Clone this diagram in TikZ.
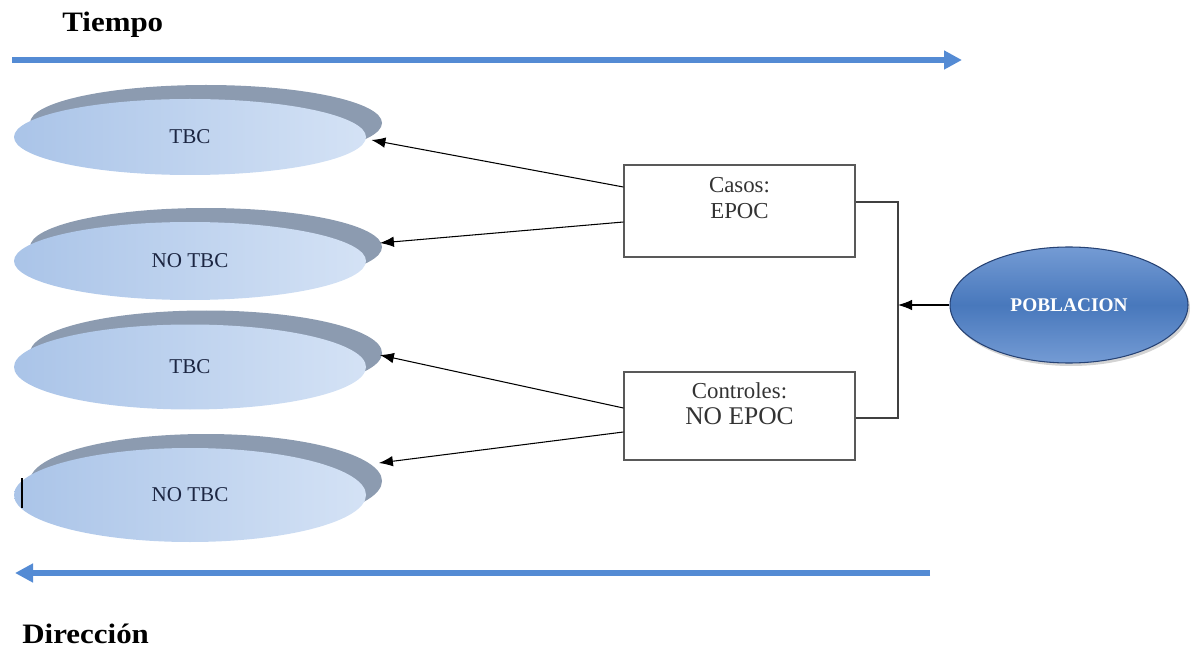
\documentclass[tikz,border=0pt]{standalone}
\usepackage{fontspec}
\setmainfont{Liberation Serif}
\newfontfamily\anchabold[FakeStretch=1.1]{Liberation Serif}
\usetikzlibrary{shapes.geometric,shadows,arrows.meta}

\definecolor{azul}{RGB}{84,139,212}
\definecolor{celeste}{RGB}{212,226,245}
\definecolor{celesteosc}{RGB}{170,196,232}
\definecolor{sombra}{RGB}{140,155,176}
\definecolor{pobazul}{RGB}{72,120,188}
\definecolor{pobclaro}{RGB}{116,155,212}
\definecolor{pobborde}{RGB}{38,66,116}
\definecolor{tinta}{RGB}{28,38,66}

\tikzset{
  tbc/.style={ellipse, minimum width=7.04cm, inner sep=0pt, draw=none,
    left color=celesteosc, right color=celeste,
    general shadow={fill=sombra, shadow xshift=0.32cm, shadow yshift=0.28cm},
    text=tinta, font=\fontsize{12}{14}\selectfont},
  caja/.style={rectangle, draw=black!65, line width=0.7pt, minimum width=4.62cm},
  cajatxt/.style={anchor=north, align=center, inner sep=0pt, text=black!80,
    font=\fontsize{13}{14.5}\selectfont},
  flecha/.style={-{Latex[length=8pt,width=6pt]}, line width=0.6pt},
  linea/.style={draw=black!75, line width=0.8pt},
  eje/.style={azul, line width=3.4pt, -{Triangle[length=0.36cm,width=0.36cm]}},
  titulo/.style={font=\anchabold\fontsize{16}{18}\selectfont\bfseries, anchor=base west, inner sep=0pt}
}

\begin{document}
\begin{tikzpicture}

\useasboundingbox (0,0) rectangle (23.92,12.98);

% time axes
\node[titulo] (tiempo) at (1.24,12.34) {Tiempo};
\coordinate (t0) at (0.24,11.78);
\coordinate (t1) at (19.24,11.78);
\draw[eje] (t0) -- (t1);

\coordinate (d0) at (18.6,1.52);
\coordinate (d1) at (0.3,1.52);
\draw[eje] (d0) -- (d1);
\node[titulo] (direccion) at (0.44,0.12) {Dirección};

% outcome ellipses
\foreach \i/\y/\h/\txt in {1/10.24/1.52/TBC, 2/7.76/1.56/NO TBC, 3/5.64/1.70/TBC, 4/3.08/1.88/NO TBC}
    \node[tbc, minimum height=\h cm] (e\i) at (3.8,\y) {\txt};

\draw[line width=1.2pt] (0.44,2.82) -- (0.44,3.42);

% groups
\node[caja, minimum height=1.84cm] (casos)     at (14.79,8.76) {};
\node[caja, minimum height=1.76cm] (controles) at (14.79,4.66) {};
\node[cajatxt] (casostxt) at ([yshift=-0.26cm]casos.north) {Casos:\\EPOC};
\node[cajatxt] (controlestxt) at ([yshift=-0.22cm]controles.north)
    {Controles:\\{\fontsize{14.5}{15}\selectfont NO EPOC}};

% population
\node[ellipse, minimum width=4.76cm, minimum height=2.32cm, inner sep=0pt,
      top color=pobclaro, bottom color=pobclaro, middle color=pobazul,
      draw=pobborde, line width=0.6pt,
      drop shadow={shadow xshift=0.04cm, shadow yshift=-0.06cm, opacity=0.35},
      text=white, font=\fontsize{11}{12}\selectfont\bfseries] (pob) at (21.38,6.88) {POBLACION};

% connectors
\coordinate (bus) at (17.96,6.92);
\draw[linea] ([yshift=0.18cm]casos.east) -| (bus) |- ([yshift=-0.04cm]controles.east);
\draw[flecha] (pob.west) -- (pob.west -| bus);

\draw[flecha] ([yshift=0.48cm]casos.west)      -- ([xshift=0.1cm,yshift=-0.06cm]e1.east);
\draw[flecha] ([yshift=-0.22cm]casos.west)     -- ([xshift=0.27cm,yshift=0.36cm]e2.east);
\draw[flecha] ([yshift=0.16cm]controles.west)  -- ([xshift=0.27cm,yshift=0.24cm]e3.east);
\draw[flecha] ([yshift=-0.32cm]controles.west) -- ([xshift=0.25cm,yshift=0.64cm]e4.east);

\end{tikzpicture}
\end{document}
